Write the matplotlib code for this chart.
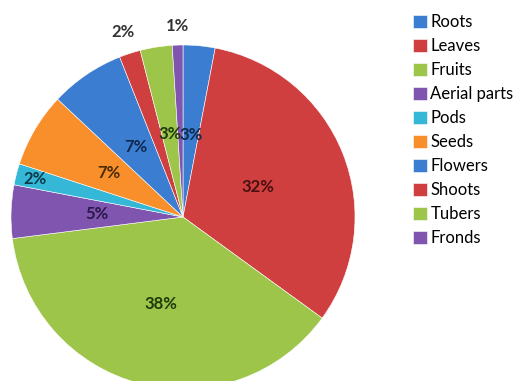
import numpy as np
import matplotlib
matplotlib.use("Agg")
import matplotlib.pyplot as plt

# plant parts used, share of reports (%)
parts = ["Roots", "Leaves", "Fruits", "Aerial parts", "Pods",
         "Seeds", "Flowers", "Shoots", "Tubers", "Fronds"]
shares = [3, 32, 38, 5, 2, 7, 7, 2, 3, 1]

colors = ["#3B7DD1", "#D03F3F", "#9CC549", "#7F55B0", "#35B7D8",
          "#F88F2A", "#3B7DD1", "#D03F3F", "#9CC549", "#7F55B0"]
text_colors = ["#10294f", "#4a1010", "#1f3a0c", "#2a1848", "#0c3a48",
               "#4a2a08", "#10294f", "#333333", "#1f3a0c", "#333333"]
# radial position of each percentage label (fraction of radius)
label_dist = [0.48, 0.47, 0.52, 0.50, 0.89, 0.50, 0.49, 1.13, 0.49, 1.11]

plt.rcParams["font.family"] = ["Lato", "DejaVu Sans"]

fig = plt.figure(figsize=(5.23, 3.81), dpi=100)
ax = fig.add_axes([11 / 523, -8 / 381, 344 / 523, 344 / 381])

wedges, _ = ax.pie(shares, colors=colors, startangle=90, counterclock=False,
                   wedgeprops=dict(edgecolor="white", linewidth=0.4))
ax.set_xlim(-1, 1)
ax.set_ylim(-1, 1)

for w, val, d, tc in zip(wedges, shares, label_dist, text_colors):
    mid = np.deg2rad((w.theta1 + w.theta2) / 2)
    ax.text(d * np.cos(mid), d * np.sin(mid), f"{val}%", ha="center", va="center",
            fontsize=12, fontweight="bold", color=tc, clip_on=False)

fig.legend(wedges, parts, loc="upper left", bbox_to_anchor=(413 / 523, 1 - 14 / 381),
           frameon=False, fontsize=12, handlelength=0.84, handleheight=0.84,
           handletextpad=0.2, labelspacing=0.48, borderpad=0, borderaxespad=0)

fig.savefig("out.png", dpi=100)
